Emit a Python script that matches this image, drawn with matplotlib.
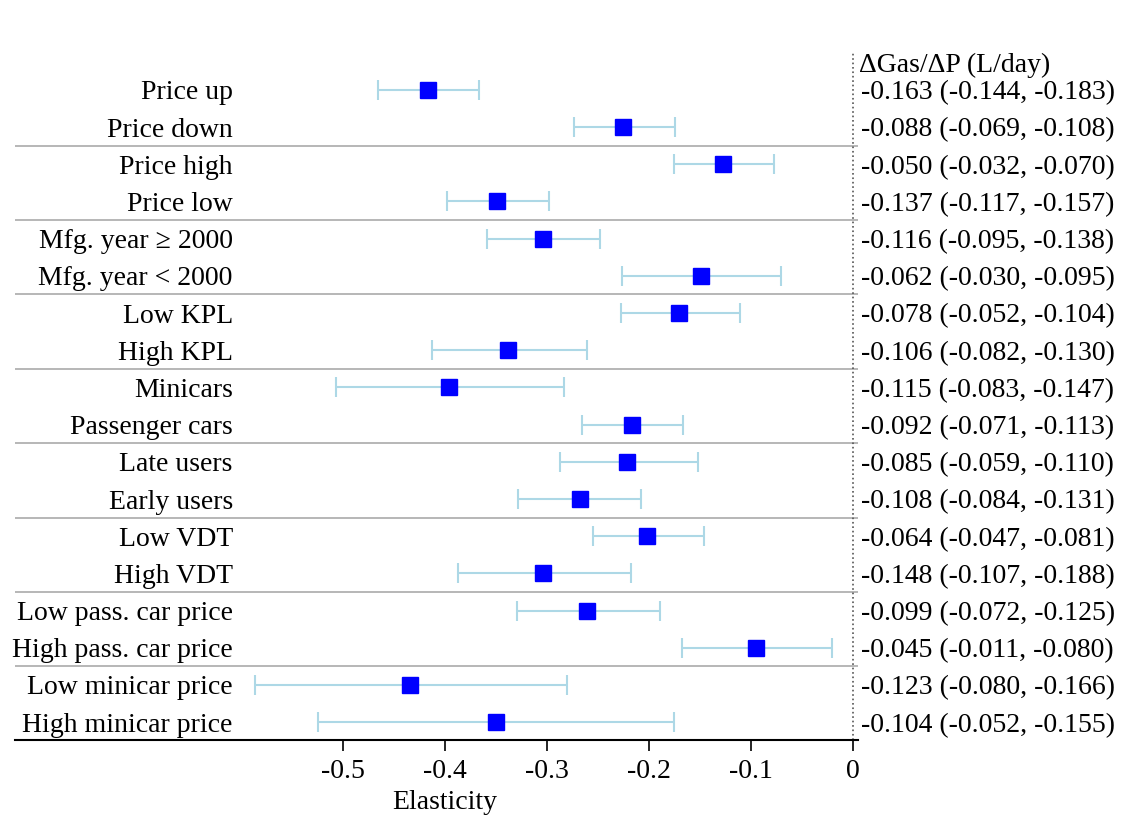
import matplotlib
matplotlib.use("Agg")
import matplotlib.pyplot as plt
import numpy as np

plt.rcParams["font.family"] = ["Liberation Serif", "DejaVu Serif"]

labels = ["Price up", "Price down", "Price high", "Price low",
          "Mfg. year \u2265 2000", "Mfg. year < 2000", "Low KPL", "High KPL",
          "Minicars", "Passenger cars", "Late users", "Early users",
          "Low VDT", "High VDT", "Low pass. car price", "High pass. car price",
          "Low minicar price", "High minicar price"]
est = [-0.417, -0.225, -0.127, -0.349, -0.304, -0.149, -0.170, -0.338,
       -0.396, -0.217, -0.221, -0.268, -0.202, -0.304, -0.261, -0.095,
       -0.434, -0.350]
lo = [-0.466, -0.273, -0.175, -0.398, -0.359, -0.226, -0.227, -0.413,
      -0.507, -0.266, -0.287, -0.328, -0.255, -0.387, -0.329, -0.168,
      -0.586, -0.524]
hi = [-0.367, -0.174, -0.077, -0.298, -0.248, -0.070, -0.111, -0.261,
      -0.283, -0.167, -0.152, -0.208, -0.146, -0.218, -0.189, -0.020,
      -0.280, -0.175]
gas = ["-0.163 (-0.144, -0.183)", "-0.088 (-0.069, -0.108)",
       "-0.050 (-0.032, -0.070)", "-0.137 (-0.117, -0.157)",
       "-0.116 (-0.095, -0.138)", "-0.062 (-0.030, -0.095)",
       "-0.078 (-0.052, -0.104)", "-0.106 (-0.082, -0.130)",
       "-0.115 (-0.083, -0.147)", "-0.092 (-0.071, -0.113)",
       "-0.085 (-0.059, -0.110)", "-0.108 (-0.084, -0.131)",
       "-0.064 (-0.047, -0.081)", "-0.148 (-0.107, -0.188)",
       "-0.099 (-0.072, -0.125)", "-0.045 (-0.011, -0.080)",
       "-0.123 (-0.080, -0.166)", "-0.104 (-0.052, -0.155)"]
xticks = [-0.5, -0.4, -0.3, -0.2, -0.1, 0]
xticklabels = ["-0.5", "-0.4", "-0.3", "-0.2", "-0.1", "0"]

fs = 20
fig = plt.figure(figsize=(11.35, 8.26), dpi=100)
ax = fig.add_axes([0.0132, 0.1041, 0.7427, 0.833])

y = np.arange(len(labels))
est = np.array(est)
err = [est - np.array(lo), np.array(hi) - est]
ax.errorbar(est, y, xerr=err, fmt="none", ecolor="#add8e6", elinewidth=1.5,
            capsize=7, capthick=1.5, zorder=2)
ax.plot(est, y, "s", color="blue", markersize=11.5, zorder=3)

for i in range(1, len(labels) // 2):
    ax.axhline(2 * i - 0.5, color="#aaaaaa", lw=1.2, zorder=1)
ax.axvline(0, color="#555555", ls=":", lw=1.2, zorder=1)

for i, (lab, g) in enumerate(zip(labels, gas)):
    ax.text(-0.608, i, lab, ha="right", va="center_baseline", fontsize=fs)
    ax.text(0.008, i, g, ha="left", va="center_baseline", fontsize=fs,
            clip_on=False)
ax.text(0.006, -0.75, "\u0394Gas/\u0394P (L/day)", ha="left",
        va="center_baseline", fontsize=fs, clip_on=False)

ax.set_xlim(-0.8216, 0.005)
ax.set_ylim(17.48, -1.02)
ax.set_yticks([])
ax.set_xticks(xticks)
ax.set_xticklabels(xticklabels, fontsize=fs)
ax.tick_params(axis="x", length=8, width=1.2, direction="out", pad=6)
for s in ["top", "right", "left"]:
    ax.spines[s].set_visible(False)
ax.spines["bottom"].set_linewidth(1.5)
ax.text(-0.4, 19.15, "Elasticity", ha="center", va="center", fontsize=fs)

fig.savefig("out.png", dpi=100)
